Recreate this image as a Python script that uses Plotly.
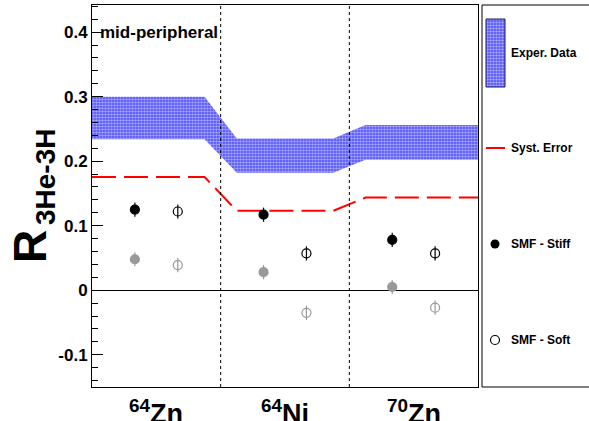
import plotly.graph_objects as go

# ---- data -------------------------------------------------------------
systems = ["64Zn", "64Ni", "70Zn"]
system_labels = ["<sup>64</sup>Zn", "<sup>64</sup>Ni", "<sup>70</sup>Zn"]

exp_low = [0.234, 0.182, 0.202]      # experimental band, lower edge
exp_high = [0.300, 0.235, 0.256]     # experimental band, upper edge
syst_error = [0.1755, 0.123, 0.1435]  # systematic-error limit

smf_stiff = [0.125, 0.117, 0.078]
smf_soft = [0.122, 0.057, 0.057]
smf_stiff_grey = [0.048, 0.028, 0.005]
smf_soft_grey = [0.039, -0.035, -0.027]
smf_err = [0.011, 0.011, 0.011]

y_tick_vals = [-0.1, 0.0, 0.1, 0.2, 0.3, 0.4]
y_tick_text = ["-0.1", "0", "0.1", "0.2", "0.3", "0.4"]

# ---- canvas geometry ----------------------------------------------------
W, H = 589, 421
FONT = "Liberation Sans, Arial, Helvetica, sans-serif"
plot_l, plot_r, plot_t, plot_b = 92, 478, 5, 387


def px(xp):
    return xp / W


def py(yp):
    return 1 - yp / H


n = len(systems)


def step_xy(values):
    """Piecewise-flat curve: flat across each system, ramps near the borders."""
    xs, ys = [], []
    for i, v in enumerate(values):
        x0 = 0 if i == 0 else i + 0.125
        x1 = n if i == n - 1 else i + 0.875
        xs += [x0, x1]
        ys += [v, v]
    return xs, ys


fig = go.Figure()

# experimental band (blue/white stipple)
bx, by_hi = step_xy(exp_high)
_, by_lo = step_xy(exp_low)
band_pattern = dict(shape=".", fgcolor="#ffffff", bgcolor="#4646f8",
                    size=3, solidity=0.6, fillmode="overlay")
fig.add_trace(go.Scatter(
    x=bx + bx[::-1], y=by_hi + by_lo[::-1],
    fill="toself", fillcolor="rgba(0,0,0,0)", fillpattern=band_pattern,
    line=dict(width=0), mode="lines", hoverinfo="skip", showlegend=False,
))

# systematic error line
sx, sy = step_xy(syst_error)
fig.add_trace(go.Scatter(
    x=sx, y=sy, mode="lines",
    line=dict(color="#ff0000", width=2, dash="24px,8px"),
    showlegend=False,
))

# SMF points
pos_stiff = [i + 1 / 3 for i in range(n)]
pos_soft = [i + 2 / 3 for i in range(n)]


def points(xs, ys, color, open_marker):
    fig.add_trace(go.Scatter(
        x=xs, y=ys, mode="markers",
        marker=dict(
            symbol="circle-open" if open_marker else "circle",
            size=9,
            color=color,
            line=dict(width=1.2, color=color),
        ),
        error_y=dict(type="data", array=smf_err, thickness=1.2, width=0,
                     color=color),
        showlegend=False,
    ))


grey = "#999999"
points(pos_stiff, smf_stiff_grey, grey, False)
points(pos_soft, smf_soft_grey, grey, True)
points(pos_stiff, smf_stiff, "black", False)
points(pos_soft, smf_soft, "black", True)

# ---- legend panel (drawn on a full-canvas pixel axis) --------------------
leg_kw = dict(xaxis="x2", yaxis="y2", showlegend=False, hoverinfo="skip")
fig.add_trace(go.Scatter(
    x=[486, 505, 505, 486, 486], y=[19, 19, 87, 87, 19],
    fill="toself", fillcolor="rgba(0,0,0,0)", fillpattern=band_pattern,
    mode="lines", line=dict(color="#1a1a60", width=1), **leg_kw,
))
fig.add_trace(go.Scatter(
    x=[486, 505], y=[148, 148], mode="lines",
    line=dict(color="#ff0000", width=2), **leg_kw,
))
fig.add_trace(go.Scatter(
    x=[495], y=[244], mode="markers",
    marker=dict(symbol="circle", size=9, color="black"), **leg_kw,
))
fig.add_trace(go.Scatter(
    x=[495], y=[340], mode="markers",
    marker=dict(symbol="circle-open", size=9, color="black",
                line=dict(width=1.2, color="black")), **leg_kw,
))

legend_entries = [("Exper. Data", 53), ("Syst. Error", 148),
                  ("SMF - Stiff", 244), ("SMF - Soft", 340)]

annotations = []
for txt, yy in legend_entries:
    annotations.append(dict(
        text=txt, xref="paper", yref="paper", x=px(509), y=py(yy),
        xanchor="left", yanchor="middle", showarrow=False,
        font=dict(family=FONT, size=12, color="black", weight="bold"),
    ))

# system labels under the axis
for i, lab in enumerate(system_labels):
    annotations.append(dict(
        text=lab, xref="x", yref="paper", x=i + 0.5, y=py(393),
        xanchor="center", yanchor="top", showarrow=False,
        font=dict(family=FONT, size=27, color="black", weight="bold"),
    ))

# centrality label
annotations.append(dict(
    text="mid-peripheral", xref="paper", yref="y", x=px(98), y=0.4,
    xanchor="left", yanchor="middle", showarrow=False,
    font=dict(family=FONT, size=17, color="black", weight="bold"),
))

# y-axis title: R with a rotated subscript
annotations.append(dict(
    text="R", xref="paper", yref="paper",
    x=px(30), y=py(247), xanchor="center", yanchor="middle",
    textangle=-90, showarrow=False,
    font=dict(family=FONT, size=46, color="black", weight="bold"),
))
annotations.append(dict(
    text="3He-3H", xref="paper", yref="paper",
    x=px(45), y=py(177), xanchor="center", yanchor="middle",
    textangle=-90, showarrow=False,
    font=dict(family=FONT, size=28, color="black", weight="bold"),
))

shapes = [
    # borders between systems
    dict(type="line", xref="x", yref="y domain", x0=1, x1=1, y0=0, y1=1,
         line=dict(color="black", width=1, dash="3px,3px")),
    dict(type="line", xref="x", yref="y domain", x0=2, x1=2, y0=0, y1=1,
         line=dict(color="black", width=1, dash="3px,3px")),
    # legend box
    dict(type="rect", xref="paper", yref="paper",
         x0=px(482), x1=px(620), y0=py(387), y1=py(5),
         line=dict(color="black", width=1), fillcolor="rgba(0,0,0,0)"),
]

fig.update_layout(
    width=W, height=H,
    margin=dict(l=0, r=0, t=0, b=0, pad=0),
    paper_bgcolor="white", plot_bgcolor="rgba(0,0,0,0)",
    showlegend=False,
    xaxis=dict(
        domain=[px(plot_l), px(plot_r)], range=[0, n],
        showticklabels=False, ticks="", showgrid=False, zeroline=False,
        showline=True, linecolor="black", linewidth=1, mirror=True,
        anchor="y",
    ),
    yaxis=dict(
        domain=[py(plot_b), py(plot_t)], range=[-0.15, 0.442],
        tickvals=y_tick_vals, ticktext=y_tick_text,
        ticks="inside", ticklen=11, tickwidth=1, tickcolor="black",
        minor=dict(dtick=0.02, tick0=0, ticks="inside", ticklen=6,
                   tickwidth=1, tickcolor="black", showgrid=False),
        tickfont=dict(family=FONT, size=17, color="black", weight="bold"),
        showgrid=False, zeroline=True, zerolinecolor="black",
        zerolinewidth=1, showline=True, linecolor="black", linewidth=1,
        mirror=True, anchor="x",
    ),
    xaxis2=dict(domain=[0, 1], range=[0, W], visible=False, anchor="y2"),
    yaxis2=dict(domain=[0, 1], range=[H, 0], visible=False, anchor="x2"),
    annotations=annotations,
    shapes=shapes,
)

fig.write_html("out.html")
